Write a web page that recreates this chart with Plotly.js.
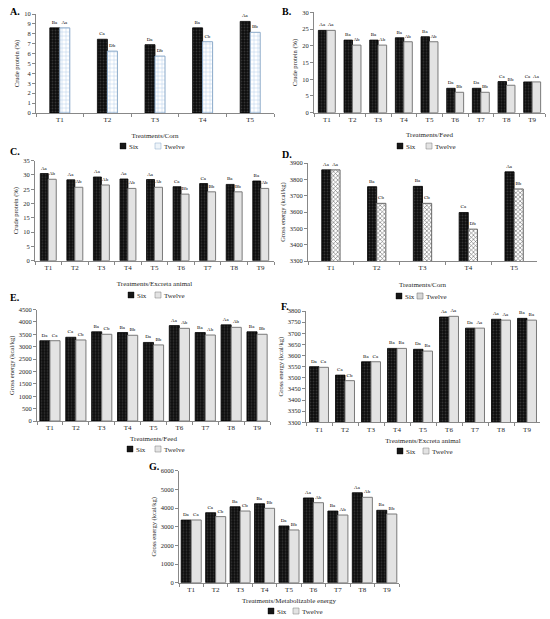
<!DOCTYPE html>
<html><head><meta charset="utf-8">
<script src="https://cdn.plot.ly/plotly-3.0.1.min.js"></script>
<style>
html,body{margin:0;padding:0;background:#fff}
#chart{width:550px;height:619px}
#chart .legendpoints path{transform:translate(34px,0) scale(0.5)}
</style>
</head><body><div id="chart"></div>
<script>
// ---------- DATA ----------
const cornTreatments = ['T1','T2','T3','T4','T5'];
const nineTreatments = ['T1','T2','T3','T4','T5','T6','T7','T8','T9'];
const seriesNames = ['Six','Twelve'];

// A. Crude protein, Corn
const cpCornSix = [8.6, 7.45, 6.9, 8.6, 9.25];
const cpCornTwelve = [8.6, 6.25, 5.75, 7.2, 8.15];
const cpCornSixLetters = ['Ba','Ca','Da','Ba','Aa'];
const cpCornTwelveLetters = ['Aa','Db','Db','Cb','Bb'];

// B. Crude protein, Feed
const cpFeedSix = [24.6, 21.7, 21.7, 22.4, 22.7, 7.3, 7.3, 9.3, 9.2];
const cpFeedTwelve = [24.6, 20.2, 20.2, 21.2, 21.2, 6.1, 6.1, 8.2, 9.2];
const cpFeedSixLetters = ['Aa','Ba','Ba','Ba','Ba','Da','Da','Ca','Ca'];
const cpFeedTwelveLetters = ['Aa','Ab','Ab','Ab','Ab','Bb','Bb','Bb','Aa'];

// C. Crude protein, Excreta animal
const cpExcSix = [30.5, 28.3, 29.3, 28.6, 28.4, 25.9, 27.0, 26.7, 27.9];
const cpExcTwelve = [28.5, 25.7, 26.5, 25.3, 25.7, 23.3, 24.1, 24.1, 25.3];
const cpExcSixLetters = ['Aa','Aa','Aa','Aa','Aa','Ca','Ca','Ba','Ba'];
const cpExcTwelveLetters = ['Ab','Ab','Ab','Ab','Ab','Bb','Bb','Bb','Ab'];

// D. Gross energy, Corn
const geCornSix = [3858, 3755, 3757, 3597, 3846];
const geCornTwelve = [3858, 3653, 3653, 3495, 3741];
const geCornSixLetters = ['Aa','Ba','Ba','Ca','Aa'];
const geCornTwelveLetters = ['Aa','Cb','Cb','Db','Bb'];

// E. Gross energy, Feed
const geFeedSix = [3240, 3380, 3600, 3570, 3170, 3850, 3570, 3880, 3600];
const geFeedTwelve = [3240, 3270, 3500, 3460, 3070, 3740, 3470, 3780, 3500];
const geFeedSixLetters = ['Da','Ca','Ba','Ba','Da','Aa','Ba','Aa','Ba'];
const geFeedTwelveLetters = ['Ca','Cb','Cb','Bb','Bb','Ab','Ab','Ab','Bb'];

// F. Gross energy, Excreta animal
const geExcSix = [3550, 3512, 3572, 3632, 3628, 3773, 3723, 3763, 3767];
const geExcTwelve = [3547, 3487, 3572, 3632, 3620, 3776, 3723, 3759, 3759];
const geExcSixLetters = ['Da','Ca','Ba','Ba','Da','Aa','Da','Aa','Ba'];
const geExcTwelveLetters = ['Ca','Cb','Ca','Ba','Ba','Aa','Aa','Aa','Ba'];

// G. Gross energy, Metabolizable energy
const geMeSix = [3357, 3750, 4070, 4230, 3040, 4540, 3840, 4820, 3880];
const geMeTwelve = [3360, 3540, 3840, 3985, 2825, 4285, 3625, 4575, 3680];
const geMeSixLetters = ['Da','Ca','Ba','Ba','Da','Aa','Ba','Aa','Ba'];
const geMeTwelveLetters = ['Ca','Cb','Cb','Bb','Bb','Ab','Ab','Ab','Bb'];

const cpTitle = 'Crude protein (%)';
const geTitle = 'Gross energy (kcal/kg)';

// ---------- STYLE / LAYOUT ----------
const W = 550, H = 619;
const px = v => v / W;
const py = v => 1 - v / H;
const FONT = 'Liberation Serif, Times New Roman, serif';
const TXT = '#262626';

const sixMarker = {color:'#111', line:{color:'#000', width:0.8},
  pattern:{shape:'.', fgcolor:'#333', bgcolor:'#0d0d0d', size:3, solidity:0.3}};
const greyMarker = {color:'#e3e3e3', line:{color:'#7a7a7a', width:1}};
const blueGridMarker = {color:'#fff', line:{color:'#8aa9c9', width:1},
  pattern:{shape:'+', fgcolor:'#a9c6e6', bgcolor:'#fff', size:4, solidity:0.2}};
const checkMarker = {color:'#fff', line:{color:'#666', width:1},
  pattern:{shape:'x', fgcolor:'#666', bgcolor:'#fff', size:3, solidity:0.35}};

// leg: [Six text x, Twelve text x, y]
const panels = [
  {lab:'A.', labX:8, labY:12, cats:cornTreatments, six:cpCornSix, tw:cpCornTwelve, sl:cpCornSixLetters, tl:cpCornTwelveLetters,
   xd:[36,274], y0:113, y1:14, range:[0,10], dtick:1, w:0.21, xt:'Treatments/Corn', yt:cpTitle, twM:blueGridMarker, leg:[129,164,146], so:9},
  {lab:'B.', labX:280, labY:12, cats:nineTreatments, six:cpFeedSix, tw:cpFeedTwelve, sl:cpFeedSixLetters, tl:cpFeedTwelveLetters,
   xd:[314,545], y0:112.7, y1:12.3, range:[0,30], dtick:5, w:0.33, xt:'Treatments/Feed', yt:cpTitle, twM:greyMarker, leg:[406,435,146], so:9},
  {lab:'C.', labX:8, labY:152, cats:nineTreatments, six:cpExcSix, tw:cpExcTwelve, sl:cpExcSixLetters, tl:cpExcTwelveLetters,
   xd:[35,274], y0:260.7, y1:160.7, range:[0,35], dtick:5, w:0.30, xt:'Treatments/Excreta animal', yt:cpTitle, twM:greyMarker, leg:[137,164,295], so:10},
  {lab:'D.', labX:280, labY:154, cats:cornTreatments, six:geCornSix, tw:geCornTwelve, sl:geCornSixLetters, tl:geCornTwelveLetters,
   xd:[308,537], y0:261, y1:163, range:[3300,3900], dtick:100, w:0.20, xt:'Treatments/Corn', yt:geTitle, twM:checkMarker, leg:[405,426,296], so:10},
  {lab:'E.', labX:8, labY:297, cats:nineTreatments, six:geFeedSix, tw:geFeedTwelve, sl:geFeedSixLetters, tl:geFeedTwelveLetters,
   xd:[37,270], y0:421, y1:309.5, range:[0,4500], dtick:500, w:0.39, xt:'Treatments/Feed', yt:geTitle, twM:greyMarker, leg:[136,164,449], so:4},
  {lab:'F.', labX:279, labY:306, cats:nineTreatments, six:geExcSix, tw:geExcTwelve, sl:geExcSixLetters, tl:geExcTwelveLetters,
   xd:[306,540], y0:422.3, y1:311, range:[3300,3800], dtick:50, w:0.365, xt:'Treatments/Excreta animal', yt:geTitle, twM:greyMarker, leg:[406,432,451], so:5},
  {lab:'G.', labX:147, labY:467, cats:nineTreatments, six:geMeSix, tw:geMeTwelve, sl:geMeSixLetters, tl:geMeTwelveLetters,
   xd:[179,399], y0:582.7, y1:470.7, range:[0,6000], dtick:1000, w:0.41, xt:'Treatments/Metabolizable energy', yt:geTitle, twM:greyMarker, leg:[277,302,611], so:5}
];

const data = [];
const layout = {
  width: W, height: H, margin:{l:0,r:0,t:0,b:0, autoexpand:false},
  paper_bgcolor:'#fff', plot_bgcolor:'rgba(0,0,0,0)',
  font:{family:FONT, size:7, color:TXT},
  barmode:'group', showlegend:true, annotations:[]
};

const legendName = k => k === 1 ? 'legend' : 'legend' + k;
const TEXT_OFFSET = 40; // distance from legend box left edge to entry text

panels.forEach((p, i) => {
  const s = i === 0 ? '' : String(i + 1);
  const legSix = legendName(2*i + 1), legTw = legendName(2*i + 2);
  const common = {type:'bar', x:p.cats, xaxis:'x'+s, yaxis:'y'+s, width:p.w,
    textposition:'outside', cliponaxis:false, constraintext:'none',
    textfont:{size:5, family:FONT, color:'#000'}, hoverinfo:'skip', showlegend:true};
  data.push(Object.assign({}, common, {name:seriesNames[0], y:p.six, text:p.sl, offset:-p.w, marker:sixMarker, legend:legSix}));
  data.push(Object.assign({}, common, {name:seriesNames[1], y:p.tw, text:p.tl, offset:0, marker:p.twM, legend:legTw}));

  const n = p.cats.length;
  layout['xaxis'+s] = {domain:[px(p.xd[0]), px(p.xd[1])], anchor:'y'+s, type:'category',
    range:[-0.5, n-0.5], ticks:'outside', tickson:'boundaries', ticklen:3, tickcolor:'#888',
    showline:true, linecolor:'#888', linewidth:1, showgrid:false, zeroline:false, fixedrange:true, automargin:false,
    tickfont:{size:7, color:TXT}, title:{text:p.xt, font:{size:7, color:TXT}, standoff:p.so}};
  layout['yaxis'+s] = {domain:[py(p.y0), py(p.y1)], anchor:'x'+s, range:p.range, dtick:p.dtick,
    ticks:'outside', ticklen:3, tickcolor:'#888', showline:true, linecolor:'#888', linewidth:1,
    showgrid:false, zeroline:false, fixedrange:true, automargin:false,
    tickfont:{size:6.5, color:TXT}, title:{text:p.yt, font:{size:6.5, color:TXT}, standoff:3}};
  const legBase = {orientation:'h', xanchor:'left', yanchor:'middle', y:py(p.leg[2]),
    font:{size:7, color:TXT}, bgcolor:'rgba(0,0,0,0)', itemwidth:30, borderwidth:0};
  layout[legSix] = Object.assign({}, legBase, {x:px(p.leg[0] - TEXT_OFFSET)});
  layout[legTw] = Object.assign({}, legBase, {x:px(p.leg[1] - TEXT_OFFSET)});
  layout.annotations.push({text:'<b>'+p.lab+'</b>', xref:'paper', yref:'paper', x:px(p.labX), y:py(p.labY),
    xanchor:'left', yanchor:'middle', showarrow:false, font:{size:10, family:FONT, color:'#000'}});
});

Plotly.newPlot('chart', data, layout, {staticPlot:true, displayModeBar:false});
</script>
</body></html>
